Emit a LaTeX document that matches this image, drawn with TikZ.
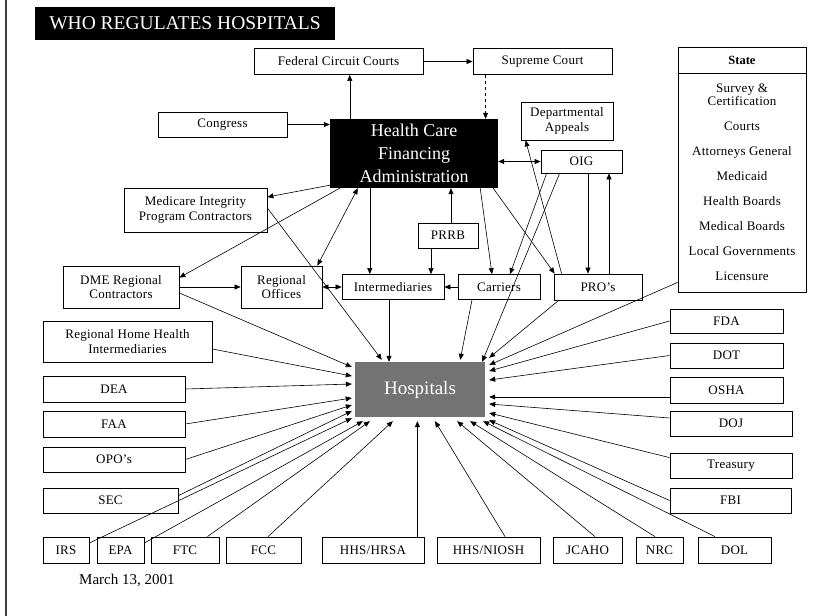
\documentclass[tikz,border=0pt]{standalone}
\usepackage{fontspec}
\setmainfont{Liberation Serif}
\newfontfamily\boxfont[LetterSpace=2]{Liberation Serif}
\usetikzlibrary{arrows.meta, positioning}

\begin{document}
\begin{tikzpicture}[
    x=1pt, y=-1pt,
    box/.style={rectangle, draw=black, line width=0.8pt, fill=white,
                align=center, inner sep=1pt,
                font=\boxfont\fontsize{13}{14.5}\selectfont},
    arr/.style={-{Triangle[length=6pt, width=5pt]}, line width=0.6pt},
    darr/.style={{Triangle[length=6pt, width=5pt]}-{Triangle[length=6pt, width=5pt]},
                 line width=0.6pt},
    font=\boxfont\fontsize{13}{14.5}\selectfont
  ]
    \useasboundingbox (0,0) rectangle (817,616);

    % Page edge
    \draw[line width=1.2pt, black!75] (6,0) -- (6,616);

    % Title
    \node[fill=black, text=white, minimum width=300pt, minimum height=33pt,
          font=\fontsize{19.5}{22}\selectfont] (title) at (185,23.5) {WHO REGULATES HOSPITALS};

    % Top row
    \node[box, minimum width=169pt, minimum height=26pt] (fedcc) at (338.5,61.5) {Federal Circuit Courts};
    \node[box, minimum width=139pt, minimum height=26pt] (supreme) at (542.5,61.5) {Supreme Court};
    \node[box, minimum width=129pt, minimum height=25pt] (congress) at (222.5,124.5) {Congress};

    % HCFA
    \node[fill=black, text=white, minimum width=168pt, minimum height=69pt, align=center,
          font=\fontsize{18}{23}\selectfont] (hcfa) at (414,153.5) {Health Care\\Financing\\Administration};

    \node[box, minimum width=92pt, minimum height=38pt] (deptapp) at (567,121) {Departmental\\Appeals};
    \node[box, minimum width=81pt, minimum height=23pt] (oig) at (581.5,161.5) {OIG};

    % State
    \node[box, minimum width=128pt, minimum height=245pt] (state) at (742,169.5) {};
    \node[box, anchor=north, minimum width=128pt, minimum height=26pt,
          font=\bfseries\fontsize{12.5}{14}\selectfont] (statehead) at (state.north) {State};
    \node[below=10pt of statehead, align=center, inner sep=0pt,
          font=\boxfont\fontsize{13}{13}\selectfont] (statelist)
      {Survey \&\\Certification\\[12pt]Courts\\[12pt]Attorneys General\\[12pt]Medicaid\\[12pt]%
       Health Boards\\[12pt]Medical Boards\\[12pt]Local Governments\\[12pt]Licensure};

    % Middle
    \node[box, minimum width=143pt, minimum height=44pt] (mipc) at (195.5,210) {Medicare Integrity\\Program Contractors};
    \node[box, minimum width=60pt, minimum height=25pt] (prrb) at (448,235.5) {PRRB};
    \node[box, minimum width=116pt, minimum height=42pt] (dme) at (121,287) {DME Regional\\Contractors};
    \node[box, minimum width=81pt, minimum height=42pt] (regoff) at (281.5,287) {Regional\\Offices};
    \node[box, minimum width=102pt, minimum height=25pt] (interm) at (393,287) {Intermediaries};
    \node[box, minimum width=82pt, minimum height=25pt] (carriers) at (499,287) {Carriers};
    \node[box, minimum width=88pt, minimum height=26pt] (pros) at (598,287) {PRO’s};

    % Hospitals
    \node[fill=black!55, text=white, minimum width=130pt, minimum height=55pt,
          font=\fontsize{19}{22}\selectfont] (hosp) at (420,389.5) {Hospitals};

    % Left column
    \node[box, minimum width=169pt, minimum height=41pt] (rhhi) at (127.5,341.5) {Regional Home Health\\Intermediaries};
    \node[box, minimum width=142pt, minimum height=26pt] (dea) at (114,389) {DEA};
    \node[box, minimum width=142pt, minimum height=26pt] (faa) at (114,424) {FAA};
    \node[box, minimum width=142pt, minimum height=25pt] (opo) at (114,459.5) {OPO’s};
    \node[box, minimum width=135pt, minimum height=25pt] (sec) at (110.5,500.5) {SEC};

    % Right column
    \node[box, minimum width=113pt, minimum height=24pt] (fda) at (726.5,321) {FDA};
    \node[box, minimum width=113pt, minimum height=25pt] (dot) at (726.5,355.5) {DOT};
    \node[box, minimum width=113pt, minimum height=26pt] (osha) at (726.5,390) {OSHA};
    \node[box, minimum width=122pt, minimum height=25pt] (doj) at (731,423.5) {DOJ};
    \node[box, minimum width=122pt, minimum height=25pt] (treasury) at (731,465.5) {Treasury};
    \node[box, minimum width=121pt, minimum height=25pt] (fbi) at (730.5,500.5) {FBI};

    % Bottom row
    \node[box, minimum width=46pt, minimum height=26pt] (irs) at (66,550) {IRS};
    \node[box, minimum width=47pt, minimum height=26pt] (epa) at (120.5,550) {EPA};
    \node[box, minimum width=68pt, minimum height=26pt] (ftc) at (185,550) {FTC};
    \node[box, minimum width=75pt, minimum height=26pt] (fcc) at (263.5,550) {FCC};
    \node[box, minimum width=102pt, minimum height=26pt] (hrsa) at (373,550) {HHS/HRSA};
    \node[box, minimum width=103pt, minimum height=26pt] (niosh) at (488.5,550) {HHS/NIOSH};
    \node[box, minimum width=69pt, minimum height=26pt] (jcaho) at (587.5,550) {JCAHO};
    \node[box, minimum width=47pt, minimum height=26pt] (nrc) at (659.5,550) {NRC};
    \node[box, minimum width=73pt, minimum height=26pt] (dol) at (734.5,550) {DOL};

    % Date
    \node[anchor=west, inner sep=0pt, font=\fontsize{15}{17}\selectfont] (date) at (79,580) {March 13, 2001};

    % Arrows around HCFA
    \draw[arr] ([xshift=20pt]hcfa.north west) -- ([xshift=20pt]hcfa.north west |- fedcc.south);
    \draw[arr] (fedcc) -- (supreme);
    \draw[arr, dashed] ([xshift=13pt]supreme.south west) -- ([xshift=13pt]supreme.south west |- hcfa.north);
    \draw[arr] (congress.east) -- (congress.east -| hcfa.west);
    \draw[darr] (hcfa.east |- oig.west) -- (oig.west);
    \draw[arr] ([yshift=3pt]hcfa.south west) -- ([yshift=13pt]mipc.east);
    \draw[arr] ([xshift=10pt]hcfa.south west) -- ([yshift=-12pt]dme.north east);
    \draw[darr] ([xshift=28pt]hcfa.south west) -- ([xshift=-5pt]regoff.north east);
    \draw[arr] ([xshift=40pt]hcfa.south west) -- ([xshift=40pt]hcfa.south west |- interm.north);
    \draw[arr] ([xshift=3pt]prrb.north) -- ([xshift=3pt]prrb.north |- hcfa.south);
    \draw[arr] ([xshift=-17pt]prrb.south) -- ([xshift=-17pt]prrb.south |- interm.north);
    \draw[arr] ([xshift=-18pt]hcfa.south east) -- ([xshift=-7pt]carriers.north);
    \draw[arr] ([xshift=-5pt]hcfa.south east) -- ([xshift=1pt]pros.north west);

    % OIG and PRO's
    \draw[arr] ([xshift=6.5pt]oig.south) -- ([xshift=6.5pt]oig.south |- pros.north);
    \draw[arr] ([xshift=27.5pt]oig.south |- pros.north) -- ([xshift=27.5pt]oig.south);
    \draw[arr] ([xshift=8pt]pros.north west) -- ([xshift=5pt]deptapp.south west);
    \draw[arr] ([xshift=6pt]oig.south west) -- ([xshift=11pt]carriers.north);
    \draw[arr] ([xshift=19pt]oig.south west) -- ([xshift=-3pt]hosp.north east);

    % Middle row
    \draw[arr] (dme.east) -- (regoff.west);
    \draw[darr] (regoff.east) -- (interm.west);
    \draw[arr] (carriers.west) -- (interm.east);

    % Into Hospitals, top
    \draw[arr] ([yshift=2pt]mipc.east) -- ([xshift=27pt,yshift=2pt]hosp.north west);
    \draw[arr] ([xshift=-4pt]interm.south) -- ([xshift=-4pt]interm.south |- hosp.north);
    \draw[arr] ([xshift=-27pt]carriers.south) -- ([xshift=-25pt,yshift=2pt]hosp.north east);
    \draw[arr] ([xshift=5pt]pros.south west) -- ([xshift=4pt,yshift=4pt]hosp.north east);

    % Into Hospitals, right
    \draw[arr] ([yshift=10pt]state.south west) -- ([xshift=4pt,yshift=24.5pt]hosp.east);
    \draw[arr] (fda.west) -- ([xshift=4pt,yshift=18.5pt]hosp.east);
    \draw[arr] (dot.west) -- ([xshift=4pt,yshift=9.5pt]hosp.east);
    \draw[arr] ([yshift=-7pt]osha.west) -- ([xshift=4pt,yshift=-7.5pt]hosp.east);
    \draw[arr] ([yshift=5.5pt]doj.west) -- ([xshift=4pt,yshift=-14.5pt]hosp.east);
    \draw[arr] ([yshift=-5pt]treasury.north west) -- ([xshift=4pt,yshift=-23.5pt]hosp.east);
    \draw[arr] (fbi.west) -- ([xshift=4pt,yshift=-3pt]hosp.south east);

    % Into Hospitals, bottom
    \draw[arr] ([xshift=-19.5pt]dol.north) -- ([xshift=-2pt,yshift=-4pt]hosp.south east);
    \draw[arr] ([xshift=-4.5pt]nrc.north) -- ([xshift=-15pt,yshift=-4pt]hosp.south east);
    \draw[arr] ([xshift=7.5pt]jcaho.north) -- ([xshift=-28pt,yshift=-4pt]hosp.south east);
    \draw[arr] ([xshift=16.5pt]niosh.north) -- ([xshift=15pt,yshift=-4pt]hosp.south);
    \draw[arr] ([xshift=-7pt]hrsa.north east) -- ([xshift=-7pt,yshift=-4pt]hrsa.north east |- hosp.south);
    \draw[arr] ([xshift=4.5pt]fcc.north) -- ([xshift=38pt,yshift=-4pt]hosp.south west);
    \draw[arr] ([xshift=-12pt]ftc.north east) -- ([xshift=15pt,yshift=-4pt]hosp.south west);
    \draw[arr] ([yshift=7pt]epa.east) -- ([xshift=8pt,yshift=-4pt]hosp.south west);
    \draw[arr] ([yshift=7pt]irs.east) -- ([xshift=-3pt,yshift=-1pt]hosp.south west);

    % Into Hospitals, left
    \draw[arr] ([yshift=-8pt]sec.north east) -- ([xshift=-3pt,yshift=-21.5pt]hosp.west);
    \draw[arr] (opo.east) -- ([xshift=-3pt,yshift=-15.5pt]hosp.west);
    \draw[arr] (faa.east) -- ([xshift=-3pt,yshift=-8.5pt]hosp.west);
    \draw[arr] (dea.east) -- ([xshift=-3pt,yshift=5.5pt]hosp.west);
    \draw[arr] ([yshift=-7.5pt]rhhi.east) -- ([xshift=-3pt,yshift=13.5pt]hosp.west);
    \draw[arr] ([yshift=-6pt]dme.east) -- ([xshift=-3pt,yshift=22.5pt]hosp.west);

\end{tikzpicture}
\end{document}
